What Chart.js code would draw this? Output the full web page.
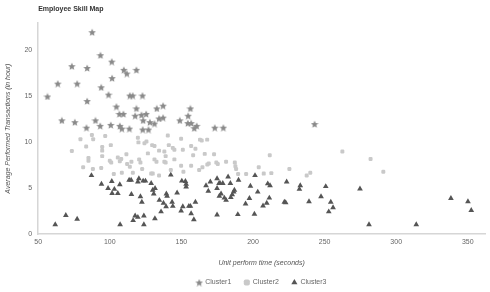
<!DOCTYPE html>
<html>
<head>
<meta charset="utf-8">
<style>
  html, body { margin: 0; padding: 0; background: #fff; }
  #wrap { width: 490px; height: 292px; }
</style>
<script src="https://cdn.jsdelivr.net/npm/chart.js@4.4.0/dist/chart.umd.min.js"></script>
</head>
<body>
<div id="wrap"><canvas id="myChart" width="490" height="292"></canvas></div>
<script>
// Data: x = unit perform time (s), y = transactions per hour
const cluster1X = [87.7, 93.5, 101.4, 73.5, 84.2, 109.8, 111.9, 118.6, 101.6, 63.7, 77.2, 94, 56.5, 99.1, 114, 116, 122.8, 84.2, 104.6, 118.6,
  106.7, 109.5, 122.1, 125.4, 117.7, 132.8, 137.2, 134.4, 137.2, 123.3, 128, 131.2, 148.9, 154.7, 156.3, 154.5, 156.8, 160.7, 159, 173.3,
  179.3, 66.5, 75.6, 90, 93.3, 100.7, 107, 83.7, 108.4, 113.7, 123, 127, 243];
const cluster1Y = [22.0, 19.5, 18.8, 18.3, 18.1, 17.9, 17.5, 17.9, 17.0, 16.4, 16.4, 16.0, 15.0, 15.2, 15.1, 15.1, 15.1, 14.5, 13.9, 13.7,
  13.1, 13.1, 13.0, 13.1, 12.9, 13.7, 14.0, 12.6, 12.7, 12.4, 12.2, 12.05, 12.4, 12.9, 13.7, 12.1, 12.1, 11.8, 11.55, 11.6,
  11.6, 12.4, 12.2, 12.4, 11.8, 11.9, 11.8, 11.6, 11.5, 11.5, 11.4, 11.4, 12.0];

const cluster2X = [73.5, 79.5, 81.4, 83.5, 85.1, 85.1, 87.5, 88.4, 88.2, 94, 94.7, 94.7, 94.7, 96.8, 100.7, 100, 101, 102.8, 105.6, 107,
  108, 108.4, 111.6, 112.1, 114, 115.1, 116.1, 119.6, 120, 120.5, 121.4, 122.6, 124.2, 125.6, 126.6, 128.9, 130, 129.6, 131.2, 131.2,
  132.6, 134.4, 134.4, 138.1, 139, 138.1, 139, 140.5, 141.2, 142.6, 144, 145.1, 145.1, 149.8, 151, 151.4, 149.8, 156.8, 156.8, 158.2,
  159.8, 162.4, 163, 164.2, 168, 166.3, 168.1, 169.1, 164.7, 172.8, 174.4, 175.4, 181.2, 187.3, 187.7, 188.2, 189.6, 195.2, 204, 207.5,
  211.7, 212.8, 225.4, 237.5, 240, 262.4, 282.1, 291];
const cluster2Y = [9.07, 10.35, 7.3, 9.55, 8.3, 8.0, 10.8, 10.35, 7.1, 7.2, 9.5, 9.1, 8.5, 10.7, 9.7, 8.0, 7.8, 6.55, 8.35, 7.95,
  8.2, 6.7, 8.7, 7.65, 7.35, 7.9, 6.7, 10.5, 10.0, 8.15, 7.8, 7.1, 9.9, 10.1, 8.8, 6.6, 6.6, 9.7, 9.6, 8.15,
  7.9, 9.1, 6.4, 9.0, 8.5, 7.9, 7.8, 10.75, 9.7, 7.0, 9.4, 9.2, 8.15, 10.4, 9.2, 6.8, 7.45, 7.45, 9.6, 8.6,
  9.3, 7.0, 10.3, 10.2, 10.3, 8.75, 7.6, 7.7, 7.3, 8.7, 7.8, 7.65, 7.9, 7.8, 7.4, 7.1, 6.55, 6.55, 7.3, 6.6,
  8.6, 6.65, 7.1, 6.4, 6.7, 9.0, 8.2, 6.8];

const cluster3X = [61.9, 69.3, 77.2, 87.2, 94.2, 98.8, 103.2, 101.4, 101.6, 105.6, 107.2, 107, 113.5, 114.9, 115.1, 116.3, 117.7, 119.6, 120.3, 119.6,
  121.4, 122.4, 123.8, 123.8, 123.3, 124.9, 128.9, 130, 130.7, 131.6, 131.5, 134.6, 135.8, 137.5, 139.3, 139.5, 140, 142.6, 143.5, 144,
  147, 149.8, 150.3, 152.8, 151, 153.3, 153.3, 155.2, 156.3, 156.8, 158.7, 159.8, 167.2, 168.8, 170.2, 174.9, 174.9, 176.3, 174.9, 177,
  177.7, 176.5, 178.9, 180, 181.2, 182.6, 184.2, 184.5, 185.5, 186.5, 187, 189.4, 189.9, 194.8, 197.5, 198.2, 201, 201.4, 203.3, 207,
  209.6, 210.3, 211.9, 211.4, 221.9, 222.8, 223.5, 232.4, 233, 239.1, 247.5, 250.8, 254.3, 255.9, 252.9, 274.7, 281, 314, 338.2, 350.1, 352.4];
const cluster3Y = [1.05, 2.05, 1.65, 6.4, 5.45, 5.0, 4.9, 5.75, 4.45, 4.45, 1.05, 5.4, 5.9, 5.9, 4.35, 1.5, 2.0, 1.85, 6.05, 5.7,
  4.1, 3.5, 2.0, 1.05, 5.8, 5.8, 5.55, 4.8, 4.4, 5.0, 1.7, 3.7, 2.45, 3.4, 3.0, 4.4, 4.15, 6.45, 3.5, 3.05,
  4.5, 2.55, 5.8, 5.75, 3.0, 5.45, 5.15, 3.05, 3.05, 2.25, 1.6, 3.5, 5.3, 4.7, 5.7, 2.1, 6.05, 5.55, 5.0, 5.55,
  4.4, 4.15, 5.55, 3.95, 3.7, 6.25, 5.55, 4.0, 4.3, 4.6, 4.8, 2.15, 5.9, 3.3, 3.9, 5.25, 2.2, 6.4, 4.6, 3.1,
  3.4, 5.5, 5.3, 3.95, 3.5, 3.45, 5.7, 4.9, 5.3, 3.55, 4.1, 5.2, 3.5, 2.9, 2.45, 4.95, 1.05, 1.05, 3.9, 3.55, 2.6];

const clusterNames = ["Cluster1", "Cluster2", "Cluster3"];
const xTicks = [50, 100, 150, 200, 250, 300, 350];
const yTicks = [0, 5, 10, 15, 20];

const FONT = "'Liberation Sans', Arial, sans-serif";

function toPoints(xs, ys) {
    return xs.map((x, i) => ({ x: x, y: ys[i] }));
}

// filled five point star, Chart.js 'star' is only stroked
function makeStar(size, color) {
    const c = document.createElement("canvas");
    c.width = size;
    c.height = size;
    const g = c.getContext("2d");
    const cx = size / 2, cy = size / 2 + 0.4;
    const outer = size / 2, inner = outer * 0.45;
    g.beginPath();
    for (let i = 0; i < 10; i++) {
        const r = i % 2 === 0 ? outer : inner;
        const a = -Math.PI / 2 + i * Math.PI / 5;
        const px = cx + r * Math.cos(a), py = cy + r * Math.sin(a);
        if (i === 0) g.moveTo(px, py); else g.lineTo(px, py);
    }
    g.closePath();
    g.fillStyle = color;
    g.fill();
    return c;
}

const starImg = makeStar(8, "#8a8a8a");

// title drawn at the left edge of the plot area
const titlePlugin = {
    id: "leftTitle",
    afterDraw(chart) {
        const c = chart.ctx;
        c.save();
        c.font = "bold 7px " + FONT;
        c.fillStyle = "#333";
        c.textBaseline = "middle";
        c.fillText("Employee Skill Map", chart.chartArea.left, 9);
        c.restore();
    }
};

const ctx = document.getElementById("myChart").getContext("2d");
const myChart = new Chart(ctx, {
    type: "scatter",
    data: {
        datasets: [
            {
                label: clusterNames[0],
                data: toPoints(cluster1X, cluster1Y),
                pointStyle: starImg,
                backgroundColor: "#8a8a8a",
                borderColor: "#8a8a8a",
                pointRadius: 4
            },
            {
                label: clusterNames[1],
                data: toPoints(cluster2X, cluster2Y),
                pointStyle: "rectRounded",
                backgroundColor: "#c9c9c9",
                borderColor: "#c9c9c9",
                borderWidth: 0,
                pointRadius: 2.3
            },
            {
                label: clusterNames[2],
                data: toPoints(cluster3X, cluster3Y),
                pointStyle: "triangle",
                backgroundColor: "#555",
                borderColor: "#555",
                borderWidth: 0,
                pointRadius: 3.3
            }
        ]
    },
    options: {
        responsive: false,
        animation: false,
        layout: { padding: { top: 23, right: 0, left: 4, bottom: -4 } },
        plugins: {
            tooltip: { enabled: false },
            legend: {
                position: "bottom",
                fullSize: false,
                labels: {
                    usePointStyle: true,
                    boxWidth: 5,
                    boxHeight: 5,
                    padding: 13,
                    color: "#666",
                    font: { size: 7, family: FONT }
                }
            }
        },
        scales: {
            x: {
                type: "linear",
                min: 50,
                max: 362,
                afterBuildTicks: s => { s.ticks = xTicks.map(v => ({ value: v })); },
                grid: { display: false, drawTicks: false },
                border: { display: true, color: "#d6d6d6", width: 1.5 },
                ticks: { color: "#666", padding: 4, font: { size: 7, family: FONT } },
                title: {
                    display: true,
                    text: "Unit perform time (seconds)",
                    color: "#555",
                    padding: { top: 8, bottom: -1 },
                    font: { size: 7, style: "italic", family: FONT }
                }
            },
            y: {
                min: 0,
                max: 23,
                afterBuildTicks: s => { s.ticks = yTicks.map(v => ({ value: v })); },
                grid: { display: false, drawTicks: false },
                border: { display: true, color: "#d6d6d6", width: 1.5 },
                ticks: { color: "#666", padding: 6, font: { size: 7, family: FONT } },
                title: {
                    display: true,
                    text: "Average Performed Transactions (in hour)",
                    color: "#555",
                    padding: { top: 0, bottom: 6 },
                    font: { size: 7, style: "italic", family: FONT }
                }
            }
        }
    },
    plugins: [titlePlugin]
});
</script>
</body>
</html>
